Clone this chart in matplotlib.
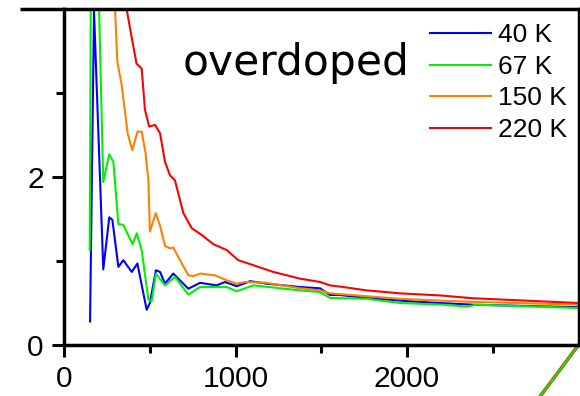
import matplotlib
matplotlib.use("Agg")
import matplotlib.pyplot as plt
from matplotlib.lines import Line2D
from matplotlib.ticker import FixedLocator

# Spectra at four temperatures (overdoped sample)
x_40K = [152, 175, 229, 264, 282, 317, 346, 395, 428, 482, 501, 536, 560, 589, 637,
         725, 793, 890, 939, 1007, 1085, 1182, 1376, 1493, 1551, 1609, 1765, 2017,
         2192, 2385, 3000]
y_40K = [0.28, 3.97, 0.90, 1.52, 1.49, 0.93, 1.01, 0.87, 0.97, 0.42, 0.50, 0.89, 0.87,
         0.73, 0.85, 0.67, 0.74, 0.71, 0.75, 0.70, 0.76, 0.73, 0.69, 0.675, 0.595,
         0.595, 0.56, 0.52, 0.50, 0.48, 0.45]

x_67K = [150, 163, 229, 264, 288, 317, 346, 400, 424, 453, 492, 511, 536, 589, 647,
         725, 793, 949, 1007, 1104, 1376, 1493, 1551, 1765, 1959, 2212, 2348, 2406, 3000]
y_67K = [1.13, 7.5, 1.94, 2.27, 2.18, 1.44, 1.43, 1.20, 1.33, 1.13, 0.54, 0.52, 0.85,
         0.71, 0.81, 0.60, 0.69, 0.69, 0.64, 0.71, 0.65, 0.63, 0.56, 0.55, 0.50, 0.48,
         0.456, 0.48, 0.44]

x_150K = [280, 311, 336, 371, 398, 429, 453, 476, 492, 501, 535, 560, 589, 618, 637,
          676, 725, 754, 793, 880, 949, 1007, 1055, 1182, 1376, 1493, 1551, 1959, 2348, 3000]
y_150K = [4.85, 3.37, 3.10, 2.52, 2.32, 2.54, 2.54, 2.28, 1.96, 1.35, 1.57, 1.42, 1.18,
          1.15, 1.16, 1.01, 0.83, 0.82, 0.85, 0.83, 0.77, 0.73, 0.75, 0.74, 0.675, 0.65,
          0.615, 0.55, 0.515, 0.48]

x_220K = [330, 394, 423, 443, 453, 472, 497, 531, 560, 589, 618, 647, 696, 745, 803,
          871, 949, 1016, 1104, 1220, 1376, 1493, 1551, 1629, 1765, 1959, 2192, 2387, 3000]
y_220K = [4.4, 3.67, 3.35, 3.31, 3.29, 2.80, 2.60, 2.62, 2.52, 2.18, 2.02, 1.96, 1.57,
          1.39, 1.31, 1.20, 1.13, 1.01, 0.95, 0.87, 0.79, 0.75, 0.71, 0.69, 0.65, 0.615,
          0.59, 0.556, 0.50]

series = [
    ("40 K", x_40K, y_40K, "#0000ff"),
    ("67 K", x_67K, y_67K, "#00f000"),
    ("150 K", x_150K, y_150K, "#ff8000"),
    ("220 K", x_220K, y_220K, "#ff0000"),
]

# Edge of the neighbouring panel, drawn below the right corner
next_panel_x = [3000, 2700]
next_panel_y = [0.0, -0.82]

x_major = [0, 1000, 2000]
x_minor = [500, 1500, 2500]
y_major = [0, 2]
y_minor = [1, 3]

plt.rcParams["font.family"] = ["Liberation Sans", "DejaVu Sans"]

fig = plt.figure(figsize=(5.8, 3.96), dpi=100)
ax = fig.add_axes([64 / 580, 1 - 345 / 396, 514.5 / 580, 336 / 396])

for label, xs, ys, col in series:
    ax.plot(xs, ys, color=col, lw=1.5, label=label)

ax.plot(next_panel_x, next_panel_y, color="#ff0000", lw=2.4, clip_on=False)
ax.plot(next_panel_x, next_panel_y, color="#00f000", lw=1.5, clip_on=False)

ax.set_xlim(0, 3000)
ax.set_ylim(0, 4)

ax.xaxis.set_major_locator(FixedLocator(x_major))
ax.xaxis.set_minor_locator(FixedLocator(x_minor))
ax.yaxis.set_major_locator(FixedLocator(y_major))
ax.yaxis.set_minor_locator(FixedLocator(y_minor))
ax.set_xticklabels([str(v) for v in x_major])
ax.set_yticklabels([str(v) for v in y_major])

ax.tick_params(which="major", direction="out", length=8.5, width=2.2,
               labelsize=21.5, pad=6)
ax.tick_params(which="minor", direction="out", length=5.5, width=2.2)
ax.tick_params(top=False, right=False, which="both")

for s in ax.spines.values():
    s.set_linewidth(2.5)
    s.set_color("black")

# top frame line continues to the left of the axes
fig.add_artist(Line2D([20 / 580, 64 / 580], [1 - 9 / 396, 1 - 9 / 396],
                      transform=fig.transFigure, color="black", lw=2.5,
                      solid_capstyle="butt"))

ax.text(0.2315, 0.8036, "overdoped", transform=ax.transAxes,
        fontsize=30.5, family="DejaVu Sans", va="baseline", ha="left")

ax.legend(loc="upper left", bbox_to_anchor=(0.712, 0.958), frameon=False,
          fontsize=19, handlelength=2.3, handletextpad=0.25, labelspacing=0.29,
          borderpad=0, borderaxespad=0)

fig.savefig("out.png", dpi=100)
